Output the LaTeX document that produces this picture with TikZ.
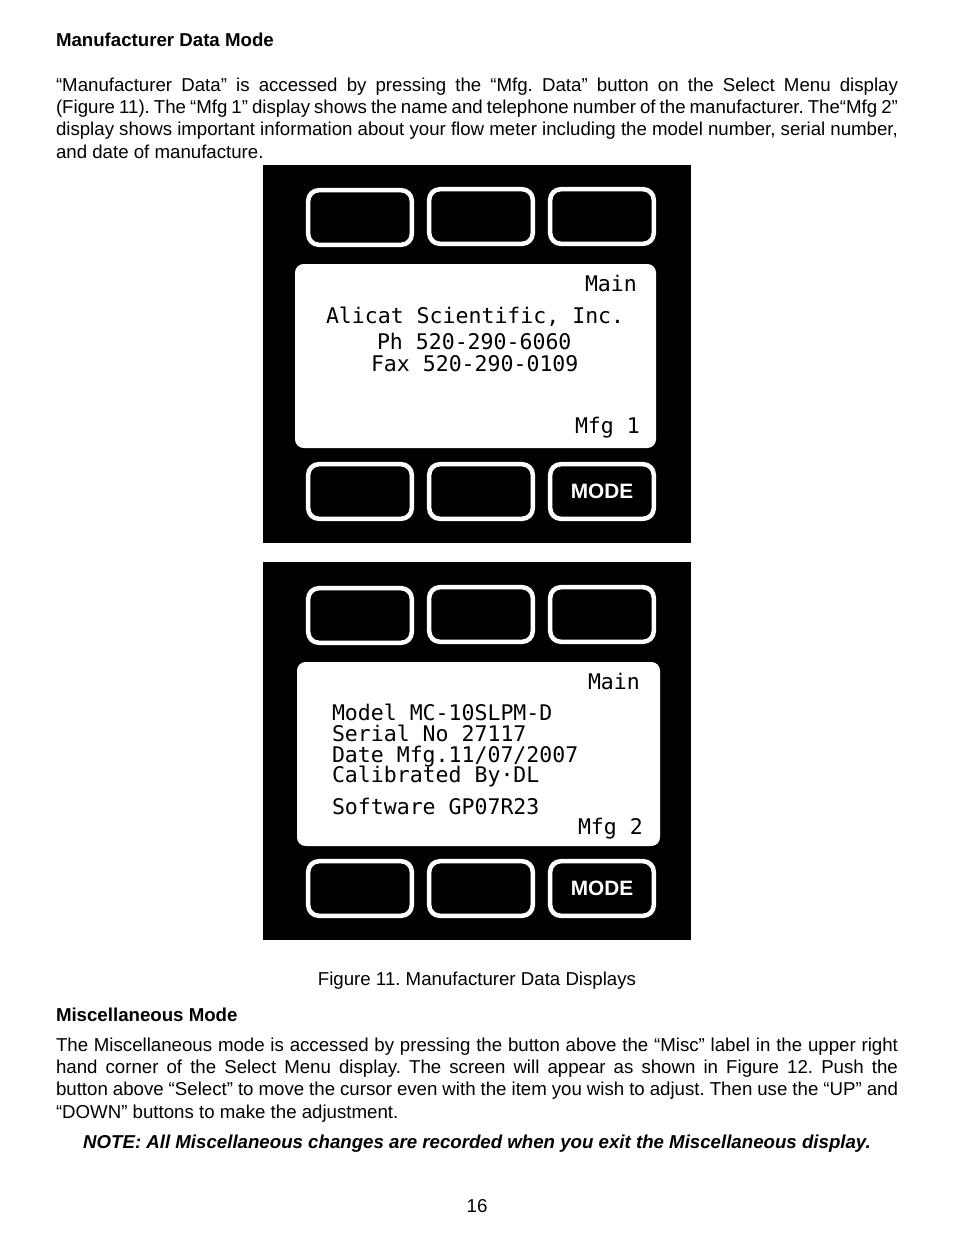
\documentclass[tikz,border=0pt]{standalone}
\usepackage{fontspec}
\setmainfont{Liberation Sans}
\newfontfamily\lcdfont{DejaVu Sans Mono}
\frenchspacing
\newcommand{\bodysize}{\fontsize{14.0}{16}\selectfont}
\newcommand{\jline}[3]{\node[bodytext] (#1) at (56,#2) {\hbox to 631.5pt{\spaceskip=0.278em plus 1.5em minus 0.2em #3}};}
\newcommand{\lcdline}[4]{\node[lcdtext] (#1) at (#2,#3) {#4};}
\newcommand{\softkey}[5]{\draw[softkeyline] (#1+2.2,#2+2.2) rectangle (#3-2.2,#4-2.2) node[midway,modetext] {#5};}
\tikzset{
  bodytext/.style={anchor=base west,inner sep=0pt,outer sep=0pt,font=\bodysize},
  headtext/.style={bodytext,font=\bodysize\bfseries},
  centertext/.style={anchor=base,inner sep=0pt,outer sep=0pt,font=\bodysize},
  notetext/.style={centertext,font=\bodysize\bfseries\itshape},
  lcdtext/.style={anchor=base west,inner sep=0pt,outer sep=0pt,font=\lcdfont\fontsize{16.15}{18}\selectfont},
  modetext/.style={inner sep=0pt,outer sep=0pt,text=white,font=\fontsize{15.6}{18}\selectfont\bfseries},
  softkeyline/.style={draw=white,line width=3.4pt,rounded corners=8pt},
  panelbox/.style={fill=black,draw=none},
  screenbox/.style={fill=white,draw=none,rounded corners=6.5pt},
}
\begin{document}
\begin{tikzpicture}[x=0.75pt,y=-0.75pt]
\useasboundingbox (0,0) rectangle (954,1235);
\fill[white] (0,0) rectangle (954,1235);
\node[headtext] (h1) at (56,46) {Manufacturer Data Mode};
\jline{p1}{91}{“Manufacturer Data” is accessed by pressing the “Mfg. Data” button on the Select Menu display}
\jline{p2}{113}{(Figure 11). The “Mfg 1” display shows the name and telephone number of the manufacturer. The“Mfg 2”}
\jline{p3}{135}{display shows important information about your flow meter including the model number, serial number,}
\node[bodytext] (p4) at (56,158) {and date of manufacture.};
% first display
\fill[panelbox] (263,165) rectangle (691,543);
\softkey{306}{188}{414}{247}{}
\softkey{427}{187}{535}{246}{}
\softkey{548}{187}{656}{246}{}
\fill[screenbox] (295,264) rectangle (656,448);
\softkey{306}{462}{414}{521}{}
\softkey{427}{462}{535}{521}{}
\softkey{548}{462}{656}{521}{MODE}
\lcdline{a1}{585}{291}{Main}
\lcdline{a2}{326}{323}{Alicat Scientific, Inc.}
\lcdline{a3}{377}{349}{Ph 520-290-6060}
\lcdline{a4}{371}{371}{Fax 520-290-0109}
\lcdline{a5}{575}{433}{Mfg 1}
% second display
\fill[panelbox] (263,562) rectangle (691,940);
\softkey{306}{586}{414}{645}{}
\softkey{427}{585}{535}{644}{}
\softkey{548}{585}{656}{644}{}
\fill[screenbox] (297,662) rectangle (660,846);
\softkey{306}{859}{414}{918}{}
\softkey{427}{859}{535}{918}{}
\softkey{548}{859}{656}{918}{MODE}
\lcdline{b1}{588}{689}{Main}
\lcdline{b2}{332}{720}{Model MC-10SLPM-D}
\lcdline{b3}{332}{741}{Serial No 27117}
\lcdline{b4}{332}{762}{Date Mfg.11/07/2007}
\lcdline{b5}{332}{782}{Calibrated By·DL}
\lcdline{b6}{332}{814}{Software GP07R23}
\lcdline{b7}{578}{834}{Mfg 2}
\node[centertext] (cap) at (477,985) {Figure 11. Manufacturer Data Displays};
\node[headtext] (h2) at (56,1021) {Miscellaneous Mode};
\jline{q1}{1051}{The Miscellaneous mode is accessed by pressing the button above the “Misc” label in the upper right}
\jline{q2}{1073}{hand corner of the Select Menu display. The screen will appear as shown in Figure 12. Push the}
\jline{q3}{1095}{button above “Select” to move the cursor even with the item you wish to adjust. Then use the “UP” and}
\node[bodytext] (q4) at (56,1118) {“DOWN” buttons to make the adjustment.};
\node[notetext] (note) at (477,1148) {NOTE: All Miscellaneous changes are recorded when you exit the Miscellaneous display.};
\node[centertext] (pg) at (477,1212) {16};
\end{tikzpicture}
\end{document}
